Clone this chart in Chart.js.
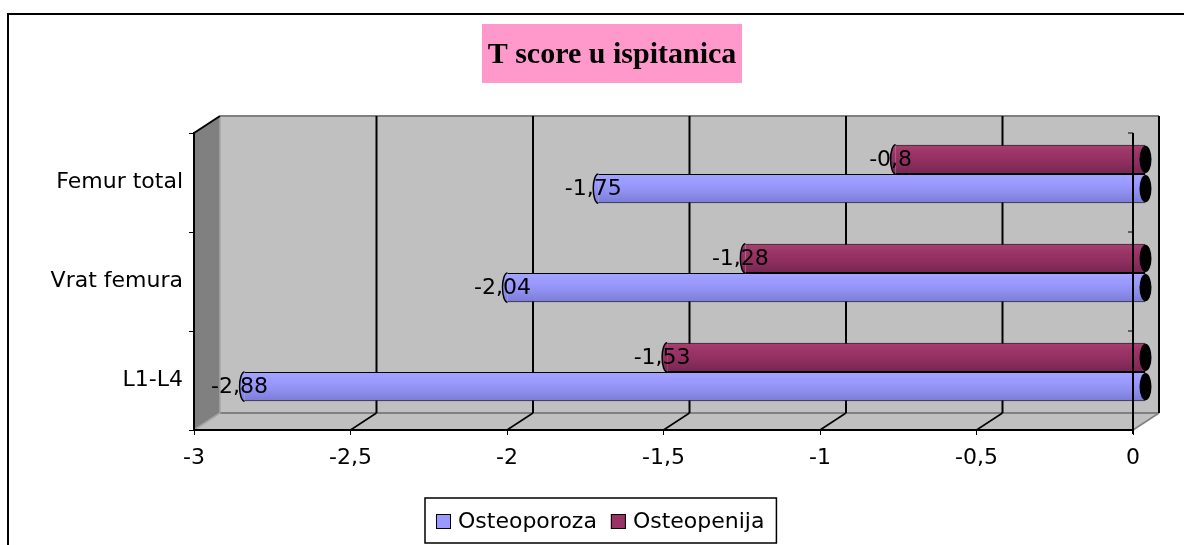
<!DOCTYPE html>
<html><head><meta charset="utf-8">
<script src="https://cdn.jsdelivr.net/npm/chart.js@4.4.0/dist/chart.umd.min.js"></script>
<style>html,body{margin:0;padding:0;background:#fff;overflow:hidden}canvas{display:block}</style>
</head><body>
<div style="width:1184px;height:545px;position:relative"><canvas id="c" width="1184" height="545"></canvas></div>
<script>
// ---- data ----
const categories = ['Femur total', 'Vrat femura', 'L1-L4'];
const osteoporoza = [-1.75, -2.04, -2.88];
const osteopenija = [-0.8, -1.28, -1.53];
const seriesNames = ['Osteoporoza', 'Osteopenija'];
const xTicks = [-3, -2.5, -2, -1.5, -1, -0.5, 0];
const chartTitle = 'T score u ispitanica';

// ---- style ----
const BLUE = '#9999FF', MAROON = '#993366';
const BLUE_STOPS = [[0, '#A4A4FF'], [0.35, '#9999FF'], [0.6, '#9090F0'], [1, '#7A7AD6']];
const MAROON_STOPS = [[0, '#A8406F'], [0.35, '#993366'], [0.6, '#8F2F5F'], [1, '#762650']];
const DX = 26, DY = -17;      // depth of the 3D box
const CAT_PCT = 0.59;
const FONT = '"DejaVu Sans"';
const fmt = v => String(v).replace('.', ',');

function grad(stops, fallback) {
  return (c) => {
    const chart = c.chart, ys = chart.scales && chart.scales.y;
    if (!ys || c.dataIndex === undefined || !chart.chartArea) return fallback;
    const step = Math.abs(ys.getPixelForValue(1) - ys.getPixelForValue(0));
    const bw = step * CAT_PCT / 2;
    const center = ys.getPixelForValue(c.dataIndex);
    const top = c.datasetIndex === 0 ? center - bw : center;
    const g = chart.ctx.createLinearGradient(0, top, 0, top + bw);
    stops.forEach(s => g.addColorStop(s[0], s[1]));
    return g;
  };
}

const scene = {
  id: 'scene',
  beforeDraw(chart) {
    const ctx = chart.ctx, a = chart.chartArea, xs = chart.scales.x;
    const L = a.left, R = a.right, T = a.top, B = a.bottom;
    ctx.save();
    ctx.fillStyle = '#fff'; ctx.fillRect(0, 0, chart.width, chart.height);
    // outer frame
    ctx.strokeStyle = '#000'; ctx.lineWidth = 2;
    ctx.strokeRect(8, 14, chart.width + 20, chart.height + 20);
    // title
    ctx.fillStyle = '#FF99CC';
    ctx.fillRect(482, 24, 260, 59);
    ctx.fillStyle = '#000';
    ctx.font = 'bold 30px "Liberation Serif"';
    ctx.textAlign = 'center'; ctx.textBaseline = 'alphabetic';
    ctx.fillText(chartTitle, 612, 63);
    const poly = (pts, fill) => {
      ctx.beginPath(); ctx.moveTo(pts[0][0], pts[0][1]);
      pts.slice(1).forEach(p => ctx.lineTo(p[0], p[1])); ctx.closePath();
      ctx.fillStyle = fill; ctx.fill();
    };
    const line = (x1, y1, x2, y2, col, w) => {
      ctx.beginPath(); ctx.moveTo(x1, y1); ctx.lineTo(x2, y2);
      ctx.strokeStyle = col; ctx.lineWidth = w; ctx.stroke();
    };
    // back wall
    poly([[L + DX, T + DY], [R + DX, T + DY], [R + DX, B + DY], [L + DX, B + DY]], '#C0C0C0');
    // floor
    poly([[L, B], [R, B], [R + DX, B + DY], [L + DX, B + DY]], '#C0C0C0');
    // left wall
    poly([[L, T], [L + DX, T + DY], [L + DX, B + DY], [L, B]], '#808080');
    // edges
    line(L + DX, T + DY, R + DX, T + DY, '#808080', 2);
    line(L + DX, B + DY, R + DX, B + DY, '#808080', 2);
    line(L + DX, T + DY, L + DX, B + DY, '#A6A6A6', 1.5);
    line(L, T, L + DX, T + DY, '#000', 2);
    line(R, B, R + DX, B + DY, '#808080', 1.5);
    // gridlines on back wall + floor
    xTicks.forEach(v => {
      const px = xs.getPixelForValue(v);
      if (v !== xTicks[0]) {
        line(px + DX, T + DY, px + DX, B + DY, '#000', 2);
        if (v !== 0) line(px, B, px + DX, B + DY, '#000', 1.5);
      } else {
        line(px, B, px + DX, B + DY, '#A6A6A6', 1.5);
      }
    });
    ctx.restore();
  },
  beforeDatasetsDraw(chart) {
    chart.ctx.save();
    chart.ctx.translate(DX / 2, DY / 2);
  },
  afterDatasetsDraw(chart) {
    const ctx = chart.ctx;
    chart.data.datasets.forEach((ds, di) => {
      const meta = chart.getDatasetMeta(di);
      meta.data.forEach((bar, i) => {
        const p = bar.getProps(['x', 'y', 'base', 'height'], true);
        const h = p.height;
        // left rounded end
        ctx.beginPath();
        ctx.ellipse(p.x, p.y, 5, h / 2, 0, Math.PI / 2, Math.PI * 1.5);
        ctx.fillStyle = bar.options.backgroundColor;
        ctx.fill();
        ctx.strokeStyle = '#000'; ctx.lineWidth = 1.5; ctx.stroke();
        // right dark end
        ctx.beginPath();
        ctx.ellipse(p.base, p.y, 6, h / 2 - 1, 0, 0, Math.PI * 2);
        ctx.fillStyle = '#000'; ctx.fill();
      });
    });
    // value labels
    ctx.font = '22px ' + FONT;
    ctx.fillStyle = '#000';
    ctx.textAlign = 'center'; ctx.textBaseline = 'middle';
    chart.data.datasets.forEach((ds, di) => {
      const meta = chart.getDatasetMeta(di);
      meta.data.forEach((bar, i) => {
        const p = bar.getProps(['x', 'y'], true);
        ctx.fillText(fmt(ds.data[i]), p.x - 5, p.y + 1);
      });
    });
    ctx.restore();
    // category axis line at value 0 (front plane)
    const a = chart.chartArea, xs = chart.scales.x;
    const x0 = xs.getPixelForValue(0);
    ctx.save();
    ctx.strokeStyle = '#000'; ctx.lineWidth = 2;
    ctx.beginPath(); ctx.moveTo(x0, a.top); ctx.lineTo(x0, a.bottom + 4); ctx.stroke();
    ctx.lineWidth = 1;
    for (let k = 0; k <= categories.length; k++) {
      const y = a.top + k * (a.bottom - a.top) / categories.length;
      ctx.beginPath(); ctx.moveTo(x0 - 5, y); ctx.lineTo(x0, y); ctx.stroke();
    }
    ctx.restore();
  },
  afterDraw(chart) {
    const ctx = chart.ctx;
    ctx.save();
    ctx.font = '22px ' + FONT;
    const items = chart.data.datasets.slice().reverse().map(d => ({ label: d.label, color: d.legendColor }));
    const padL = 11, sq = 15, gap = 7, itemGap = 14, padR = 12;
    let total = padL + padR;
    items.forEach((it, k) => { it.w = ctx.measureText(it.label).width; total += sq + gap + it.w + (k ? itemGap : 0); });
    const left = Math.round(600.5 - total / 2), top = 498, hgt = 45;
    ctx.fillStyle = '#fff'; ctx.fillRect(left, top, total, hgt);
    ctx.strokeStyle = '#000'; ctx.lineWidth = 1.5;
    ctx.strokeRect(left, top, total, hgt);
    let x = left + padL;
    items.forEach((it, k) => {
      if (k) x += itemGap;
      ctx.fillStyle = it.color; ctx.fillRect(x, 514, sq, sq);
      ctx.strokeStyle = '#000'; ctx.lineWidth = 1; ctx.strokeRect(x + 0.5, 514.5, sq - 1, sq - 1);
      x += sq + gap;
      ctx.fillStyle = '#000'; ctx.textAlign = 'left'; ctx.textBaseline = 'alphabetic';
      ctx.fillText(it.label, x, 528);
      x += it.w;
    });
    ctx.restore();
  }
};

new Chart(document.getElementById('c'), {
  type: 'bar',
  data: {
    labels: categories,
    datasets: [
      { label: seriesNames[1], data: osteopenija, legendColor: MAROON,
        backgroundColor: grad(MAROON_STOPS, MAROON), borderColor: '#000',
        borderWidth: { top: 1, bottom: 1, left: 0, right: 0 }, borderSkipped: false, clip: false },
      { label: seriesNames[0], data: osteoporoza, legendColor: BLUE,
        backgroundColor: grad(BLUE_STOPS, BLUE), borderColor: '#000',
        borderWidth: { top: 1, bottom: 1, left: 0, right: 0 }, borderSkipped: false, clip: false }
    ]
  },
  options: {
    indexAxis: 'y',
    responsive: false,
    animation: false,
    devicePixelRatio: 1,
    layout: { padding: { left: 0, top: 133, right: 51, bottom: 0 } },
    datasets: { bar: { categoryPercentage: CAT_PCT, barPercentage: 1 } },
    plugins: { legend: { display: false }, title: { display: false }, tooltip: { enabled: false } },
    scales: {
      x: {
        type: 'linear', min: -3, max: 0,
        afterBuildTicks: s => { s.ticks = xTicks.map(v => ({ value: v })); },
        afterFit: s => { s.height = 115; },
        ticks: { callback: v => fmt(v), color: '#000', font: { family: 'DejaVu Sans', size: 22 }, padding: 10, maxRotation: 0, autoSkip: false },
        grid: { drawOnChartArea: false, drawTicks: true, tickLength: 5, color: '#000', lineWidth: 1 },
        border: { display: true, color: '#000', width: 2 }
      },
      y: {
        afterFit: s => { s.width = 194; },
        ticks: { color: '#000', font: { family: 'DejaVu Sans', size: 22 }, padding: 6, autoSkip: false },
        grid: { drawOnChartArea: false, drawTicks: true, tickLength: 5, color: '#000', lineWidth: 1, offset: true },
        border: { display: true, color: '#000', width: 2 }
      }
    }
  },
  plugins: [scene]
});
</script>
</body></html>
